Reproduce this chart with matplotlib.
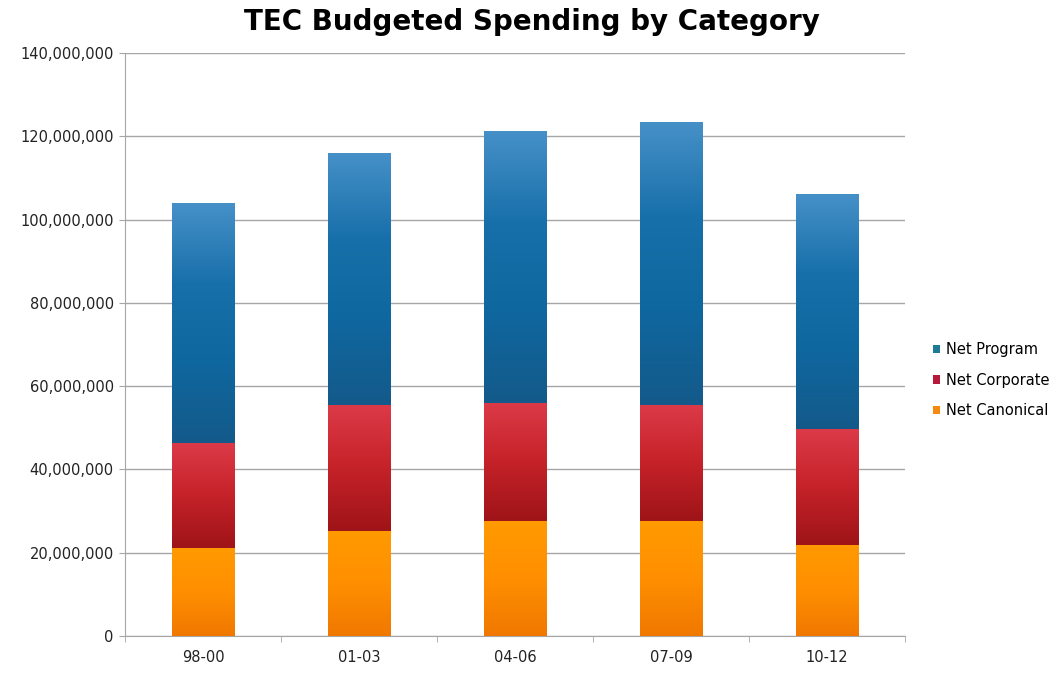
import numpy as np
import matplotlib.pyplot as plt
from matplotlib.colors import LinearSegmentedColormap
from matplotlib.ticker import FuncFormatter, MultipleLocator
from matplotlib.patches import Patch

periods = ['98-00', '01-03', '04-06', '07-09', '10-12']
net_canonical = [21100000, 25200000, 27600000, 27600000, 21900000]
net_corporate = [25200000, 30300000, 28400000, 27900000, 27800000]
net_program = [57400000, 60500000, 65300000, 67900000, 56400000]

series = [
    ('Net Canonical', net_canonical, ['#f07800', '#ff8f00', '#ff9a00'], '#f58a12'),
    ('Net Corporate', net_corporate, ['#9e1418', '#c52229', '#dc3a48'], '#b8193a'),
    ('Net Program', net_program, ['#145a8a', '#0f679f', '#1870aa', '#4690c8'], '#1f7a95'),
]

fig = plt.figure(figsize=(10.58, 6.73), dpi=100)
ax = fig.add_axes([0.1181, 0.055, 0.7373, 0.8662])

x = np.arange(len(periods))
width = 0.4
bottoms = np.zeros(len(periods))
grad = np.linspace(0, 1, 256).reshape(-1, 1)

# each segment is a vertical gradient image sized to its bar
for name, vals, stops, swatch in series:
    cmap = LinearSegmentedColormap.from_list(name, stops)
    vals = np.array(vals, dtype=float)
    for xi, b, v in zip(x, bottoms, vals):
        ax.imshow(grad, cmap=cmap, origin='lower', aspect='auto',
                  extent=(xi - width / 2, xi + width / 2, b, b + v), zorder=3,
                  interpolation='bilinear')
    bottoms += vals

ax.set_xlim(-0.5, len(periods) - 0.5)
ax.set_ylim(0, 140000000)
ax.yaxis.set_major_locator(MultipleLocator(20000000))
ax.yaxis.set_major_formatter(FuncFormatter(lambda v, p: f'{int(v):,}'))
ax.grid(axis='y', color='#a6a6a6', lw=1, zorder=0)

ax.set_xticks(x)
ax.set_xticklabels(periods)
ax.set_xticks(np.arange(-0.5, len(periods), 1), minor=True)
ax.tick_params(axis='x', which='major', length=0, pad=10, labelsize=10.5, labelcolor='#222222')
ax.tick_params(axis='x', which='minor', length=4, color='#a6a6a6', direction='out')
ax.tick_params(axis='y', length=4, color='#a6a6a6', labelsize=10.5, labelcolor='#222222', pad=4)

for side in ['top', 'right']:
    ax.spines[side].set_visible(False)
for side in ['left', 'bottom']:
    ax.spines[side].set_color('#a6a6a6')

fig.text(0.503, 0.968, 'TEC Budgeted Spending by Category', fontsize=20, fontweight='bold',
         ha='center', va='center')

handles = [Patch(facecolor=s[3], edgecolor='none', label=s[0]) for s in reversed(series)]
fig.legend(handles=handles, loc='center left', bbox_to_anchor=(0.869, 0.435), frameon=False,
           fontsize=10.5, handlelength=0.5, handleheight=0.5, handletextpad=0.4, labelspacing=1.05)

fig.savefig('out.png', dpi=100, facecolor='white')
